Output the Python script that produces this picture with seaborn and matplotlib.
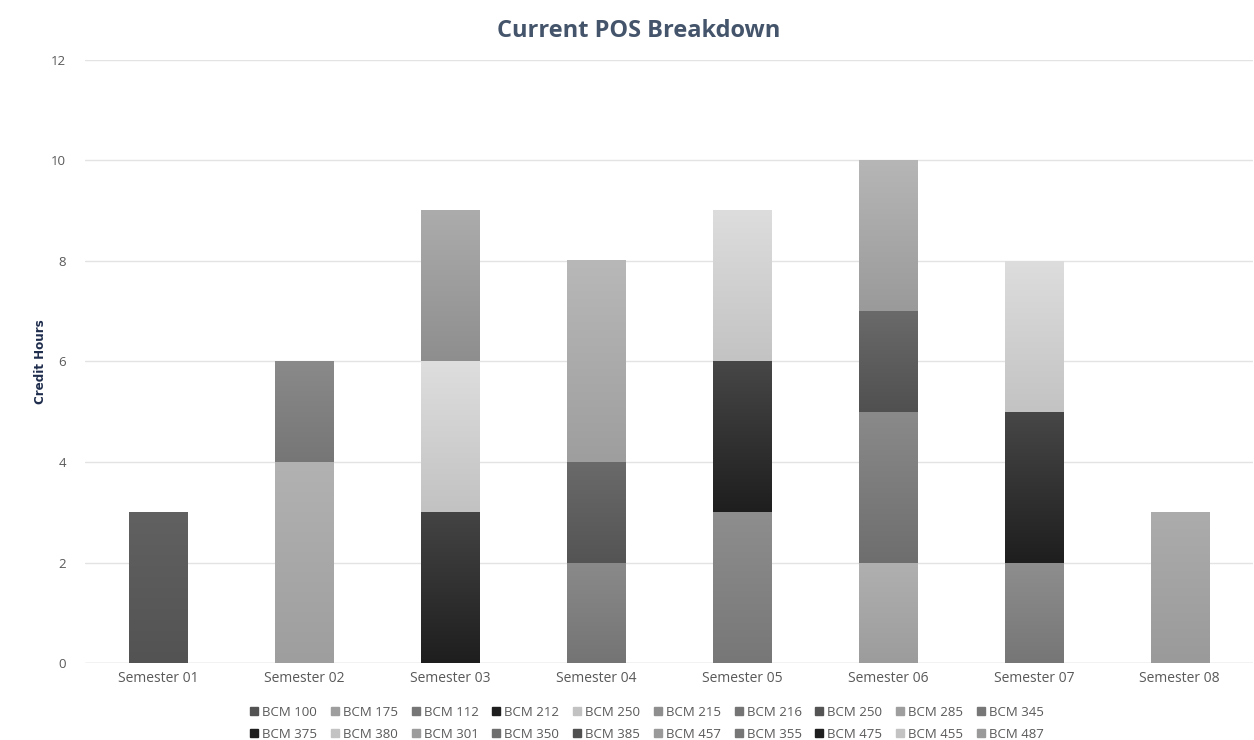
import numpy as np
import pandas as pd
import matplotlib
matplotlib.use("Agg")
import matplotlib.pyplot as plt
from matplotlib.colors import LinearSegmentedColormap
from matplotlib.lines import Line2D
import seaborn as sns

# Program-of-study data: each course sits in one semester, stacked in order
semesters = ["Semester 01", "Semester 02", "Semester 03", "Semester 04",
             "Semester 05", "Semester 06", "Semester 07", "Semester 08"]
courses = ["BCM 100", "BCM 175", "BCM 112", "BCM 212", "BCM 250",
           "BCM 215", "BCM 216", "BCM 250", "BCM 285", "BCM 345",
           "BCM 375", "BCM 380", "BCM 301", "BCM 350", "BCM 385",
           "BCM 457", "BCM 355", "BCM 475", "BCM 455", "BCM 487"]
course_semester = [0, 1, 1, 2, 2, 2, 3, 3, 3, 4, 4, 4, 5, 5, 5, 5, 6, 6, 6, 7]
credit_hours = [3, 4, 2, 3, 3, 3, 2, 2, 4, 3, 3, 3, 2, 3, 2, 3, 2, 3, 3, 3]

# Grey shading per course: (top, bottom) of the vertical gradient
shades = [("#616161", "#535353"), ("#b2b2b2", "#9e9e9e"), ("#8a8a8a", "#767676"),
          ("#444444", "#1e1e1e"), ("#dedede", "#c2c2c2"), ("#acacac", "#8e8e8e"),
          ("#8a8a8a", "#747474"), ("#6a6a6a", "#545454"), ("#b8b8b8", "#9e9e9e"),
          ("#8e8e8e", "#777777"), ("#474747", "#1e1e1e"), ("#dddddd", "#c3c3c3"),
          ("#b0b0b0", "#9c9c9c"), ("#8a8a8a", "#6e6e6e"), ("#6a6a6a", "#505050"),
          ("#b6b6b6", "#9a9a9a"), ("#8e8e8e", "#767676"), ("#474747", "#1e1e1e"),
          ("#dddddd", "#c3c3c3"), ("#acacac", "#9a9a9a")]

sns.set_theme(style="white")
plt.rcParams["font.family"] = ["Open Sans", "DejaVu Sans"]

fig = plt.figure(figsize=(12.54, 7.4), dpi=100)
ax = fig.add_axes([0.068, 0.104, 0.931, 0.815])

stack_base = np.zeros(len(semesters))
for i, (course, sem, hrs) in enumerate(zip(courses, course_semester, credit_hours)):
    df = pd.DataFrame({"semester": [semesters[sem]], "hours": [hrs]})
    top, bottom = shades[i]
    sns.barplot(data=df, x="semester", y="hours", order=semesters,
                color=bottom, width=0.4, errorbar=None, bottom=stack_base[sem],
                linewidth=0, saturation=1, ax=ax, zorder=2)
    stack_base[sem] += hrs

# Vertical gradient overlay on each stacked segment
grad = np.linspace(0, 1, 256).reshape(-1, 1)
for i, patch in enumerate(ax.patches):
    top, bottom = shades[i]
    cmap = LinearSegmentedColormap.from_list(f"g{i}", [bottom, top])
    x0, y0 = patch.get_x(), patch.get_y()
    w, h = patch.get_width(), patch.get_height()
    ax.imshow(grad, extent=[x0, x0 + w, y0, y0 + h], origin="lower",
              cmap=cmap, aspect="auto", zorder=3, interpolation="bilinear")

ax.set_xlim(-0.5, 7.5)
ax.set_ylim(0, 12)
ax.set_yticks(np.arange(0, 13, 2))
ax.yaxis.grid(True, color="#e3e3e3", linewidth=1)
ax.set_axisbelow(True)
for s in ax.spines.values():
    s.set_visible(False)
ax.axhline(0, color="#d9d9d9", linewidth=1, zorder=1)
ax.tick_params(axis="both", length=0, colors="#595959")
ax.tick_params(axis="x", labelsize=10, pad=6)
ax.tick_params(axis="y", labelsize=9.5, pad=14)
ax.set_xlabel("")
ax.set_ylabel("Credit Hours", fontsize=9.5, color="#1f2d4d", fontweight="bold",
              family="DejaVu Sans", fontstretch="condensed", labelpad=3)

fig.text(0.509, 0.958, "Current POS Breakdown", ha="center", va="center",
         fontsize=17, fontweight="bold", color="#44546a")

# Legend entries laid out row by row (matplotlib fills columns first)
handles = [Line2D([0], [0], marker="s", linestyle="none", markersize=5.5,
                  markerfacecolor=sh[1], markeredgecolor=sh[1]) for sh in shades]
ncol, nrow = 10, 2
order = [r * ncol + c for c in range(ncol) for r in range(nrow)]
fig.legend([handles[k] for k in order], [courses[k] for k in order],
           ncol=ncol, loc="center", bbox_to_anchor=(0.516, 0.0225),
           frameon=False, fontsize=9.5, labelcolor="#595959", handlelength=0.6,
           handletextpad=0.3, columnspacing=1.05, labelspacing=0.65, borderpad=0)

fig.savefig("out.png", dpi=100, facecolor="white")
